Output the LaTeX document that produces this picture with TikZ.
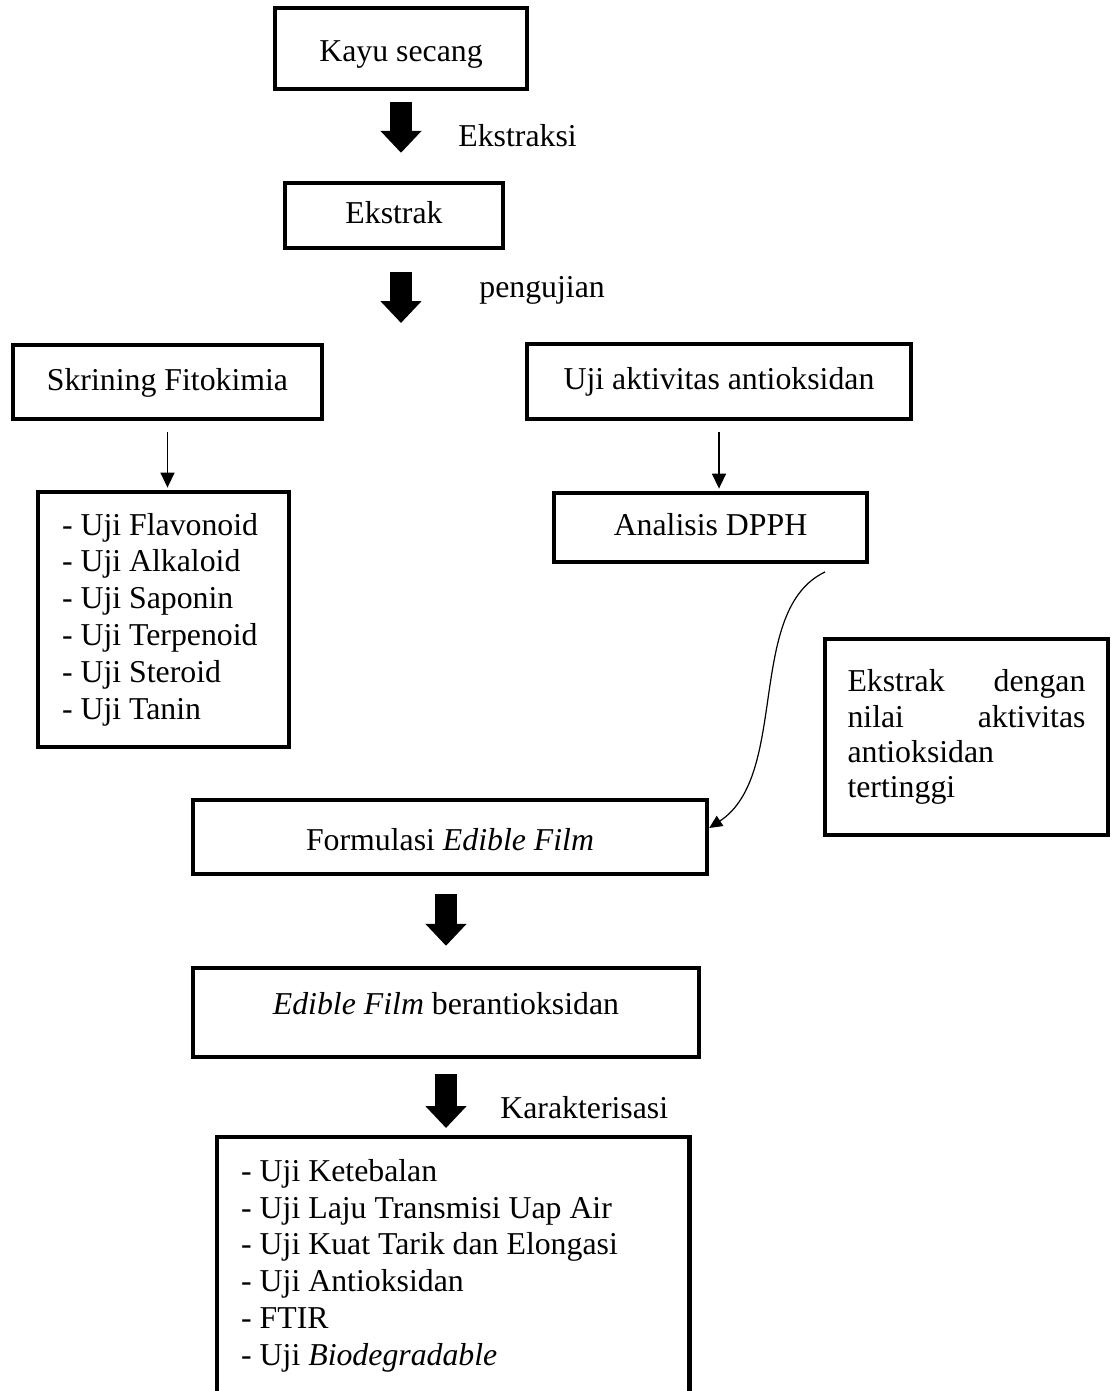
\documentclass[tikz,border=0pt]{standalone}
\usepackage{fontspec}
\setmainfont{Liberation Serif}
\usetikzlibrary{positioning}
\usetikzlibrary{arrows.meta}
\usetikzlibrary{calc}
\newcommand{\flowfont}{\fontsize{15.9}{18.4}\selectfont}
\tikzset{
  % A single-line stage box
  procbox/.style={
    draw=black, line width=2.2pt, fill=white, align=center,
    font=\flowfont, inner sep=2pt, minimum width=#1,
    text height=11pt, text depth=3pt},
  % A box holding a list of tests
  listbox/.style={
    draw=black, line width=2.2pt, fill=white, align=flush left,
    font=\flowfont, inner xsep=12pt, inner ysep=0pt, text width=#1},
  % Connectors
  bigarrow/.style={line width=11pt, -{Triangle[length=11pt, width=20pt]}},
  subarrow/.style={line width=0.75pt, -{Triangle[length=7.5pt, width=7pt]}},
  curvy/.style={line width=0.6pt, -{Triangle[length=6.5pt, width=6pt]}},
  openbox/.style={draw=black, line width=2.2pt},
  lbl/.style={font=\flowfont, inner sep=0pt},
}

\begin{document}
\begin{tikzpicture}[x=0.5pt, y=-0.5pt]
\useasboundingbox (0,0) rectangle (1116,1391);

\node[procbox=126pt, minimum height=40.5pt, text height=13pt, text depth=0pt] (kayu) at (401,48.5) {Kayu secang};
\node[procbox=109pt, minimum height=32.5pt] (ekstrak) at (394,215.5) {Ekstrak};
\coordinate (cabang) at (401,323);

\node[procbox=154.5pt, minimum height=37pt] (skrining) at (167.5,382) {Skrining Fitokimia};
\node[procbox=192pt, minimum height=37.5pt] (uji) at (719,381.5) {Uji aktivitas antioksidan};

\node[listbox=101.5pt, minimum height=127.5pt] (fito) at (163.5,619.5) {
  - Uji Flavonoid\\
  - Uji Alkaloid\\
  - Uji Saponin\\
  - Uji Terpenoid\\
  - Uji Steroid\\
  - Uji Tanin};
\node[procbox=156.5pt, minimum height=34.5pt] (dpph) at (710.5,527.5) {Analisis DPPH};
\coordinate (dpphout) at (825,572);

\node[listbox=119pt, inner xsep=11.25pt, minimum height=98pt,
      font=\fontsize{15.9}{17.6}\selectfont] (seleksi) at (966.5,737) {
  Ekstrak \hfill dengan\\
  nilai \hfill aktivitas\\
  antioksidan\\
  tertinggi};

\node[procbox=257pt, minimum height=37pt, text height=13pt, text depth=0pt] (formulasi) at (450,837) {Formulasi \textit{Edible Film}};
\node[procbox=253pt, minimum height=44.5pt, text depth=9pt] (edible) at (446,1012.5) {\textit{Edible Film} berantioksidan};

\node[listbox=212pt, draw=none, fill=none, inner xsep=11pt, inner ysep=10pt, anchor=north west] (karak) at (217,1137) {
  - Uji Ketebalan\\
  - Uji Laju Transmisi Uap Air\\
  - Uji Kuat Tarik dan Elongasi\\
  - Uji Antioksidan\\
  - FTIR\\
  - Uji \textit{Biodegradable}};
\draw[openbox] (karak.north west |- 0,1400) -- (karak.north west) -- (karak.north east) -- (karak.north east |- 0,1400);

% stage arrows
\draw[bigarrow, shorten <=5.5pt, shorten >=14pt] (kayu.south) -- (kayu.south |- ekstrak.north);
\draw[bigarrow, shorten <=11pt] (kayu.south |- ekstrak.south) -- (cabang);
\draw[bigarrow, shorten <=9pt, shorten >=10pt] (edible.north |- formulasi.south) -- (edible.north);
\draw[bigarrow, shorten <=7.5pt, shorten >=4.5pt] (edible.south) -- (edible.south |- karak.north);

\draw[subarrow, shorten <=5.5pt, shorten >=1.1pt] (skrining.south) -- (skrining.south |- fito.north);
\draw[subarrow, shorten <=5.5pt, shorten >=1.1pt] (uji.south) -- (uji.south |- dpph.north);
\draw[curvy] (dpphout) .. controls (745,610) and (790,775) .. ([yshift=4.5pt]formulasi.east);

\node[lbl, anchor=base west] (ekstraksi) at (458,147) {Ekstraksi};
\node[lbl, anchor=base west] (pengujian) at (479,297) {pengujian};
\node[lbl, anchor=base west] (karakterisasi) at (500,1118) {Karakterisasi};

\end{tikzpicture}
\end{document}
